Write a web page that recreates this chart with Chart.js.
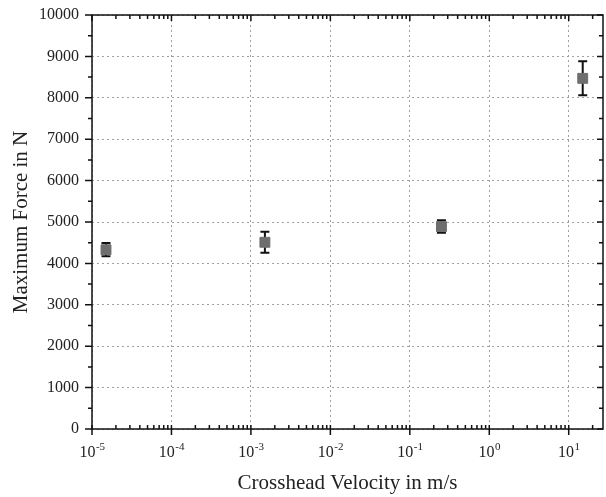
<!DOCTYPE html>
<html>
<head>
<meta charset="utf-8">
<script src="https://cdn.jsdelivr.net/npm/chart.js@4/dist/chart.umd.min.js"></script>
<style>
  body { margin: 0; background: #fff; }
  canvas { display: block; }
</style>
</head>
<body>
<canvas id="mycanvas" width="606" height="497"></canvas>
<script>
// crosshead velocity (m/s), mean max force (N), error (N)
var velocity = [1.5e-5, 1.5e-3, 0.25, 15];
var maxForce = [4330, 4510, 4890, 8470];
var forceErr = [160, 255, 150, 410];

var xMin = 1e-5, xMax = 27;
var yMin = 0, yMax = 10000, yStep = 1000;

var serif = "'Liberation Serif', 'Times New Roman', serif";

function isDecade(v) {
    var l = Math.log10(v);
    return Math.abs(l - Math.round(l)) < 1e-6;
}
function isMinorLog(v) {
    var e = Math.floor(Math.log10(v) + 1e-9);
    var s = v / Math.pow(10, e);
    return Math.abs(s - Math.round(s)) < 1e-6;
}

var points = [];
for (var i = 0; i < velocity.length; i++) {
    points.push({x: velocity[i], y: maxForce[i]});
}

// error bars, under the markers
var errorBars = {
    id: 'errorBars',
    beforeDatasetsDraw: function(chart) {
        var ctx = chart.ctx, xs = chart.scales.x, ys = chart.scales.y;
        ctx.save();
        ctx.strokeStyle = '#111';
        ctx.lineWidth = 2;
        for (var i = 0; i < velocity.length; i++) {
            var px = xs.getPixelForValue(velocity[i]);
            var top = ys.getPixelForValue(maxForce[i] + forceErr[i]);
            var bot = ys.getPixelForValue(maxForce[i] - forceErr[i]);
            ctx.beginPath();
            ctx.moveTo(px, top); ctx.lineTo(px, bot);
            ctx.moveTo(px - 4.5, top); ctx.lineTo(px + 4.5, top);
            ctx.moveTo(px - 4.5, bot); ctx.lineTo(px + 4.5, bot);
            ctx.stroke();
        }
        ctx.restore();
    }
};

// frame, tick marks and 10^n labels
var frame = {
    id: 'frame',
    afterDraw: function(chart) {
        var ctx = chart.ctx, a = chart.chartArea;
        var xs = chart.scales.x, ys = chart.scales.y;
        ctx.save();
        ctx.strokeStyle = '#111';
        ctx.lineWidth = 1.5;
        ctx.strokeRect(a.left, a.top, a.right - a.left, a.bottom - a.top);

        ctx.beginPath();
        xs.ticks.forEach(function(t) {
            if (!isMinorLog(t.value)) return;
            var px = xs.getPixelForValue(t.value);
            if (px < a.left - 0.5 || px > a.right + 0.5) return;
            if (isDecade(t.value)) {
                ctx.moveTo(px, a.bottom - 4); ctx.lineTo(px, a.bottom + 6);
                ctx.moveTo(px, a.top); ctx.lineTo(px, a.top + 6);
            } else {
                ctx.moveTo(px, a.bottom); ctx.lineTo(px, a.bottom - 4);
                ctx.moveTo(px, a.top); ctx.lineTo(px, a.top + 4);
            }
        });
        var yt = ys.ticks;
        for (var i = 0; i < yt.length; i++) {
            var py = ys.getPixelForValue(yt[i].value);
            ctx.moveTo(a.left - 7, py); ctx.lineTo(a.left, py);
            ctx.moveTo(a.right, py); ctx.lineTo(a.right - 6, py);
            if (i < yt.length - 1) {
                var pm = ys.getPixelForValue((yt[i].value + yt[i + 1].value) / 2);
                ctx.moveTo(a.left - 4, pm); ctx.lineTo(a.left, pm);
                ctx.moveTo(a.right, pm); ctx.lineTo(a.right - 4, pm);
            }
        }
        ctx.stroke();

        ctx.fillStyle = '#222';
        ctx.textBaseline = 'alphabetic';
        ctx.textAlign = 'left';
        xs.ticks.forEach(function(t) {
            if (!isDecade(t.value)) return;
            var px = xs.getPixelForValue(t.value);
            if (px < a.left - 0.5 || px > a.right + 0.5) return;
            var ex = String(Math.round(Math.log10(t.value)));
            ctx.font = '16px ' + serif;
            var w1 = ctx.measureText('10').width;
            ctx.font = '11px ' + serif;
            var w2 = ctx.measureText(ex).width;
            var x0 = px - (w1 + w2) / 2;
            var base = a.bottom + 28;
            ctx.font = '16px ' + serif;
            ctx.fillText('10', x0, base);
            ctx.font = '11px ' + serif;
            ctx.fillText(ex, x0 + w1 + 0.5, base - 7);
        });
        ctx.restore();
    }
};

var ctx = document.getElementById('mycanvas');

var chart = new Chart(ctx, {
    type: 'scatter',
    data: {
        datasets: [{
            label: 'Maximum Force',
            data: points,
            pointStyle: 'rect',
            pointRadius: 7,
            pointHoverRadius: 7,
            backgroundColor: '#6e6e6e',
            borderColor: '#6e6e6e',
            borderWidth: 1
        }]
    },
    options: {
        responsive: false,
        animation: false,
        layout: { autoPadding: false, padding: { top: 15, right: 3, left: 0, bottom: 0 } },
        plugins: {
            legend: { display: false },
            tooltip: { enabled: false }
        },
        scales: {
            x: {
                type: 'logarithmic',
                min: xMin,
                max: xMax,
                afterFit: function(s) {
                    s.height = 68;
                    s.paddingLeft = 0; s.paddingRight = 0;
                },
                border: { display: false, dash: [2, 3] },
                grid: {
                    drawTicks: false,
                    lineWidth: 1,
                    color: function(c) {
                        return c.tick && isDecade(c.tick.value) ? '#a0a0a0' : 'rgba(0,0,0,0)';
                    }
                },
                ticks: {
                    autoSkip: false,
                    maxRotation: 0,
                    color: 'rgba(0,0,0,0)',
                    font: { family: serif, size: 16 },
                    callback: function(v) { return isDecade(v) ? '10' : ''; }
                },
                title: {
                    display: true,
                    text: 'Crosshead Velocity in m/s',
                    color: '#222',
                    font: { family: serif, size: 21 },
                    padding: { top: 0, bottom: 1 }
                }
            },
            y: {
                min: yMin,
                max: yMax,
                afterFit: function(s) {
                    s.width = 92;
                    s.paddingTop = 0; s.paddingBottom = 0;
                },
                border: { display: false, dash: [2, 3] },
                grid: { drawTicks: false, color: '#a0a0a0', lineWidth: 1 },
                ticks: {
                    stepSize: yStep,
                    padding: 13,
                    color: '#222',
                    font: { family: serif, size: 16 },
                    callback: function(v) { return String(v); }
                },
                title: {
                    display: true,
                    text: 'Maximum Force in N',
                    color: '#222',
                    font: { family: serif, size: 21 },
                    padding: { top: 9, bottom: 0 }
                }
            }
        }
    },
    plugins: [errorBars, frame]
});
</script>
</body>
</html>
